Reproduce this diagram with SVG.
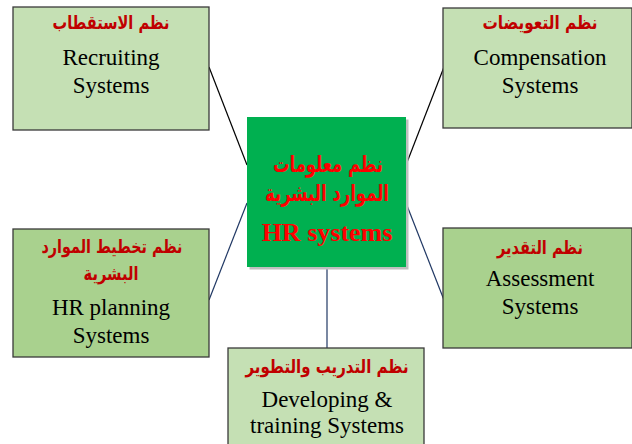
<svg xmlns="http://www.w3.org/2000/svg" width="632" height="444" viewBox="0 0 632 444">
<style>
.box{stroke:#3a3a3a;stroke-width:1.3}
.light{fill:#c5e0b4}
.dark{fill:#a9d18e}
.ar{font-family:"DejaVu Sans",sans-serif;font-weight:bold;fill:#c00000;text-anchor:middle}
.en{font-family:"Liberation Serif",serif;font-size:23px;fill:#000;text-anchor:middle}
.cen{font-family:"DejaVu Sans",sans-serif;font-weight:bold;fill:#ff0000;text-anchor:middle}
.blk{stroke:#000;stroke-width:1.2;fill:none}
.blu{stroke:#203864;stroke-width:1.2;fill:none}
</style>
<rect width="632" height="444" fill="#fff"/>
<g id="connectors">
<line class="blk" x1="209" y1="67" x2="247" y2="165"/>
<line class="blk" x1="444" y1="67" x2="406" y2="165"/>
<line class="blu" x1="209" y1="300" x2="247" y2="203"/>
<line class="blu" x1="444" y1="300" x2="406" y2="203"/>
<line class="blu" x1="327" y1="267" x2="327" y2="348"/>
</g>
<g id="center">
<rect x="249.5" y="119.5" width="159" height="150" fill="#bfbfbf"/>
<rect x="247" y="117" width="159" height="150" fill="#00b050"/>
<text class="cen" x="328" y="172" font-size="23" textLength="110" lengthAdjust="spacingAndGlyphs">نظم معلومات</text>
<text class="cen" x="327" y="201" font-size="23" textLength="124" lengthAdjust="spacingAndGlyphs">الموارد  البشرية</text>
<text x="327" y="241" font-family="Liberation Serif,serif" font-weight="bold" font-size="26" fill="#ff0000" text-anchor="middle">HR systems</text>
</g>
<g id="recruiting">
<rect class="box light" x="13" y="7" width="196" height="123"/>
<text class="ar" x="111" y="29" font-size="19" textLength="117" lengthAdjust="spacingAndGlyphs">نظم الاستقطاب</text>
<text class="en" x="111" y="65">Recruiting</text>
<text class="en" x="111" y="93">Systems</text>
</g>
<g id="compensation">
<rect class="box light" x="443" y="8" width="189" height="120"/>
<text class="ar" x="540" y="29" font-size="19" textLength="115" lengthAdjust="spacingAndGlyphs">نظم التعويضات</text>
<text class="en" x="540" y="65">Compensation</text>
<text class="en" x="540" y="93">Systems</text>
</g>
<g id="hrplanning">
<rect class="box dark" x="13" y="229" width="196" height="128"/>
<text class="ar" x="112" y="253" font-size="19" textLength="141" lengthAdjust="spacingAndGlyphs">نظم تخطيط الموارد</text>
<text class="ar" x="111" y="280" font-size="19" textLength="55" lengthAdjust="spacingAndGlyphs">البشرية</text>
<text class="en" x="111" y="315">HR planning</text>
<text class="en" x="111" y="343">Systems</text>
</g>
<g id="assessment">
<rect class="box dark" x="443" y="228" width="189" height="120"/>
<text class="ar" x="540" y="254" font-size="19" textLength="86" lengthAdjust="spacingAndGlyphs">نظم التقدير</text>
<text class="en" x="540" y="286">Assessment</text>
<text class="en" x="540" y="314">Systems</text>
</g>
<g id="developing">
<rect class="box light" x="228" y="348" width="196" height="100"/>
<text class="ar" x="327" y="373" font-size="19" textLength="163" lengthAdjust="spacingAndGlyphs">نظم التدريب والتطوير</text>
<text class="en" x="327" y="407">Developing &amp;</text>
<text class="en" x="327" y="433">training Systems</text>
</g>
</svg>
